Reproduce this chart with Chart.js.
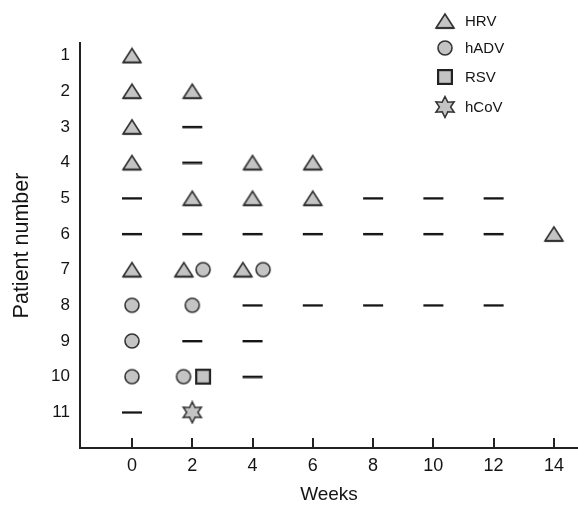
<!DOCTYPE html>
<html>
<head>
<meta charset="utf-8">
<script src="https://cdn.jsdelivr.net/npm/chart.js@4.4.0/dist/chart.umd.min.js"></script>
<style>
  html, body { margin: 0; padding: 0; background: #ffffff; }
  #wrap { width: 578px; height: 506px; }
</style>
</head>
<body>
<div id="wrap"><canvas id="c" width="578" height="506"></canvas></div>
<script>
// ---- data ----
const weekTicks = [0, 2, 4, 6, 8, 10, 12, 14];
const patientTicks = [1, 2, 3, 4, 5, 6, 7, 8, 9, 10, 11];

const hrvWeeks    = [0, 0, 2, 0, 0, 4, 6, 2, 4, 6, 14, 0, 1.72, 3.68];
const hrvPatients = [1, 2, 2, 3, 4, 4, 4, 5, 5, 5, 6, 7, 7, 7];

const hadvWeeks    = [2.36, 4.35, 0, 2, 0, 0, 1.71];
const hadvPatients = [7, 7, 8, 8, 9, 10, 10];

const rsvWeeks    = [2.36];
const rsvPatients = [10];

const hcovWeeks    = [2];
const hcovPatients = [11];

const negWeeks    = [2, 2, 0, 8, 10, 12, 0, 2, 4, 6, 8, 10, 12, 4, 6, 8, 10, 12, 2, 4, 4, 0];
const negPatients = [3, 4, 5, 5, 5, 5, 6, 6, 6, 6, 6, 6, 6, 8, 8, 8, 8, 8, 9, 9, 10, 11];

const legendLabels = ['HRV', 'hADV', 'RSV', 'hCoV'];
// ---------------------------------------

const FONT = "'Liberation Sans', Arial, Helvetica, sans-serif";
const TXT = '#141414';
const FILL = '#c4c4c4';
const STROKE = '#333333';

function makeMarker(kind) {
  const c = document.createElement('canvas');
  const ctx = () => c.getContext('2d');
  if (kind === 'triangle') {
    c.width = 22; c.height = 18;
    const g = ctx();
    g.beginPath(); g.moveTo(11, 2); g.lineTo(2, 16); g.lineTo(20, 16); g.closePath();
    g.fillStyle = FILL; g.fill();
    g.lineWidth = 1.6; g.strokeStyle = STROKE; g.lineJoin = 'miter'; g.stroke();
    g.beginPath(); g.moveTo(2, 16); g.lineTo(20, 16); g.lineWidth = 2.2; g.stroke();
  } else if (kind === 'circle') {
    c.width = 18; c.height = 18;
    const g = ctx();
    g.beginPath(); g.arc(9, 9, 7, 0, Math.PI * 2);
    g.fillStyle = FILL; g.fill();
    g.lineWidth = 1.6; g.strokeStyle = STROKE; g.stroke();
  } else if (kind === 'square') {
    c.width = 18; c.height = 18;
    const g = ctx();
    g.fillStyle = FILL; g.fillRect(2, 2, 14, 14);
    g.lineWidth = 2.2; g.strokeStyle = '#222'; g.strokeRect(2.1, 2.1, 13.8, 13.8);
  } else if (kind === 'star') {
    c.width = 24; c.height = 24;
    const g = ctx();
    const R = 10.5, r = 5.6;
    g.beginPath();
    for (let i = 0; i < 12; i++) {
      const a = -Math.PI / 2 + i * Math.PI / 6;
      const rr = i % 2 === 0 ? R : r;
      const px = 12 + Math.cos(a) * rr, py = 12 + Math.sin(a) * rr;
      if (i === 0) g.moveTo(px, py); else g.lineTo(px, py);
    }
    g.closePath();
    g.fillStyle = FILL; g.fill();
    g.lineWidth = 1.5; g.strokeStyle = STROKE; g.lineJoin = 'miter'; g.stroke();
  } else if (kind === 'dash') {
    c.width = 22; c.height = 4;
    const g = ctx();
    g.fillStyle = '#151515'; g.fillRect(1, 1, 20, 2.4);
  }
  return c;
}

const mk = {
  triangle: makeMarker('triangle'),
  circle: makeMarker('circle'),
  square: makeMarker('square'),
  star: makeMarker('star'),
  dash: makeMarker('dash')
};

function pts(xs, ys) { return xs.map((x, i) => ({ x: x, y: ys[i] })); }

const legendPlugin = {
  id: 'customLegend',
  afterDraw(chart) {
    const g = chart.ctx;
    const items = [mk.triangle, mk.circle, mk.square, mk.star];
    const ys = [21, 48, 77, 107];
    g.save();
    g.font = '15px ' + FONT;
    g.fillStyle = TXT;
    g.textBaseline = 'middle';
    g.textAlign = 'left';
    items.forEach((img, i) => {
      g.drawImage(img, Math.round(445 - img.width / 2), Math.round(ys[i] - img.height / 2));
      g.fillText(legendLabels[i], 465, ys[i] + 1);
    });
    g.restore();
  }
};

const innerTicksPlugin = {
  id: 'innerTicks',
  afterDatasetsDraw(chart) {
    const xs = chart.scales.x;
    const g = chart.ctx;
    const bottom = chart.chartArea.bottom;
    g.save();
    g.strokeStyle = '#222';
    g.lineWidth = 2;
    xs.ticks.forEach(t => {
      const px = Math.round(xs.getPixelForValue(t.value));
      g.beginPath();
      g.moveTo(px, bottom);
      g.lineTo(px, bottom - 10);
      g.stroke();
    });
    g.restore();
  }
};

Chart.defaults.font.family = FONT;

new Chart(document.getElementById('c'), {
  type: 'scatter',
  data: {
    datasets: [
      { label: 'Negative', data: pts(negWeeks, negPatients), pointStyle: mk.dash, pointRadius: 10 },
      { label: 'HRV', data: pts(hrvWeeks, hrvPatients), pointStyle: mk.triangle, pointRadius: 10 },
      { label: 'hADV', data: pts(hadvWeeks, hadvPatients), pointStyle: mk.circle, pointRadius: 9 },
      { label: 'RSV', data: pts(rsvWeeks, rsvPatients), pointStyle: mk.square, pointRadius: 9 },
      { label: 'hCoV', data: pts(hcovWeeks, hcovPatients), pointStyle: mk.star, pointRadius: 11 }
    ]
  },
  options: {
    responsive: false,
    animation: false,
    devicePixelRatio: 1,
    events: [],
    layout: { autoPadding: false, padding: { top: 43, right: 0, left: 0, bottom: 0 } },
    plugins: {
      legend: { display: false },
      tooltip: { enabled: false }
    },
    scales: {
      x: {
        type: 'linear',
        min: -1.725,
        max: 14.8,
        afterBuildTicks: s => { s.ticks = weekTicks.map(v => ({ value: v })); },
        afterFit: s => { s.height = 58; s.paddingLeft = 0; s.paddingRight = 0; },
        grid: { display: false, drawTicks: false },
        border: { display: true, width: 2, color: '#222' },
        ticks: { font: { size: 18 }, color: TXT, padding: 7, autoSkip: false, maxRotation: 0 },
        title: { display: true, text: 'Weeks', font: { size: 19 }, color: TXT, padding: { top: 0, bottom: 0 } }
      },
      y: {
        type: 'linear',
        reverse: true,
        min: 0.65,
        max: 12,
        afterBuildTicks: s => { s.ticks = patientTicks.map(v => ({ value: v })); },
        afterFit: s => { s.width = 80; s.paddingTop = 0; s.paddingBottom = 0; },
        grid: { display: false, drawTicks: false },
        border: { display: true, width: 2, color: '#222' },
        ticks: { font: { size: 17 }, color: TXT, padding: 10, autoSkip: false },
        title: { display: true, text: 'Patient number', font: { size: 21.5 }, color: TXT, padding: { top: 9, bottom: 0 } }
      }
    }
  },
  plugins: [legendPlugin, innerTicksPlugin]
});
</script>
</body>
</html>
